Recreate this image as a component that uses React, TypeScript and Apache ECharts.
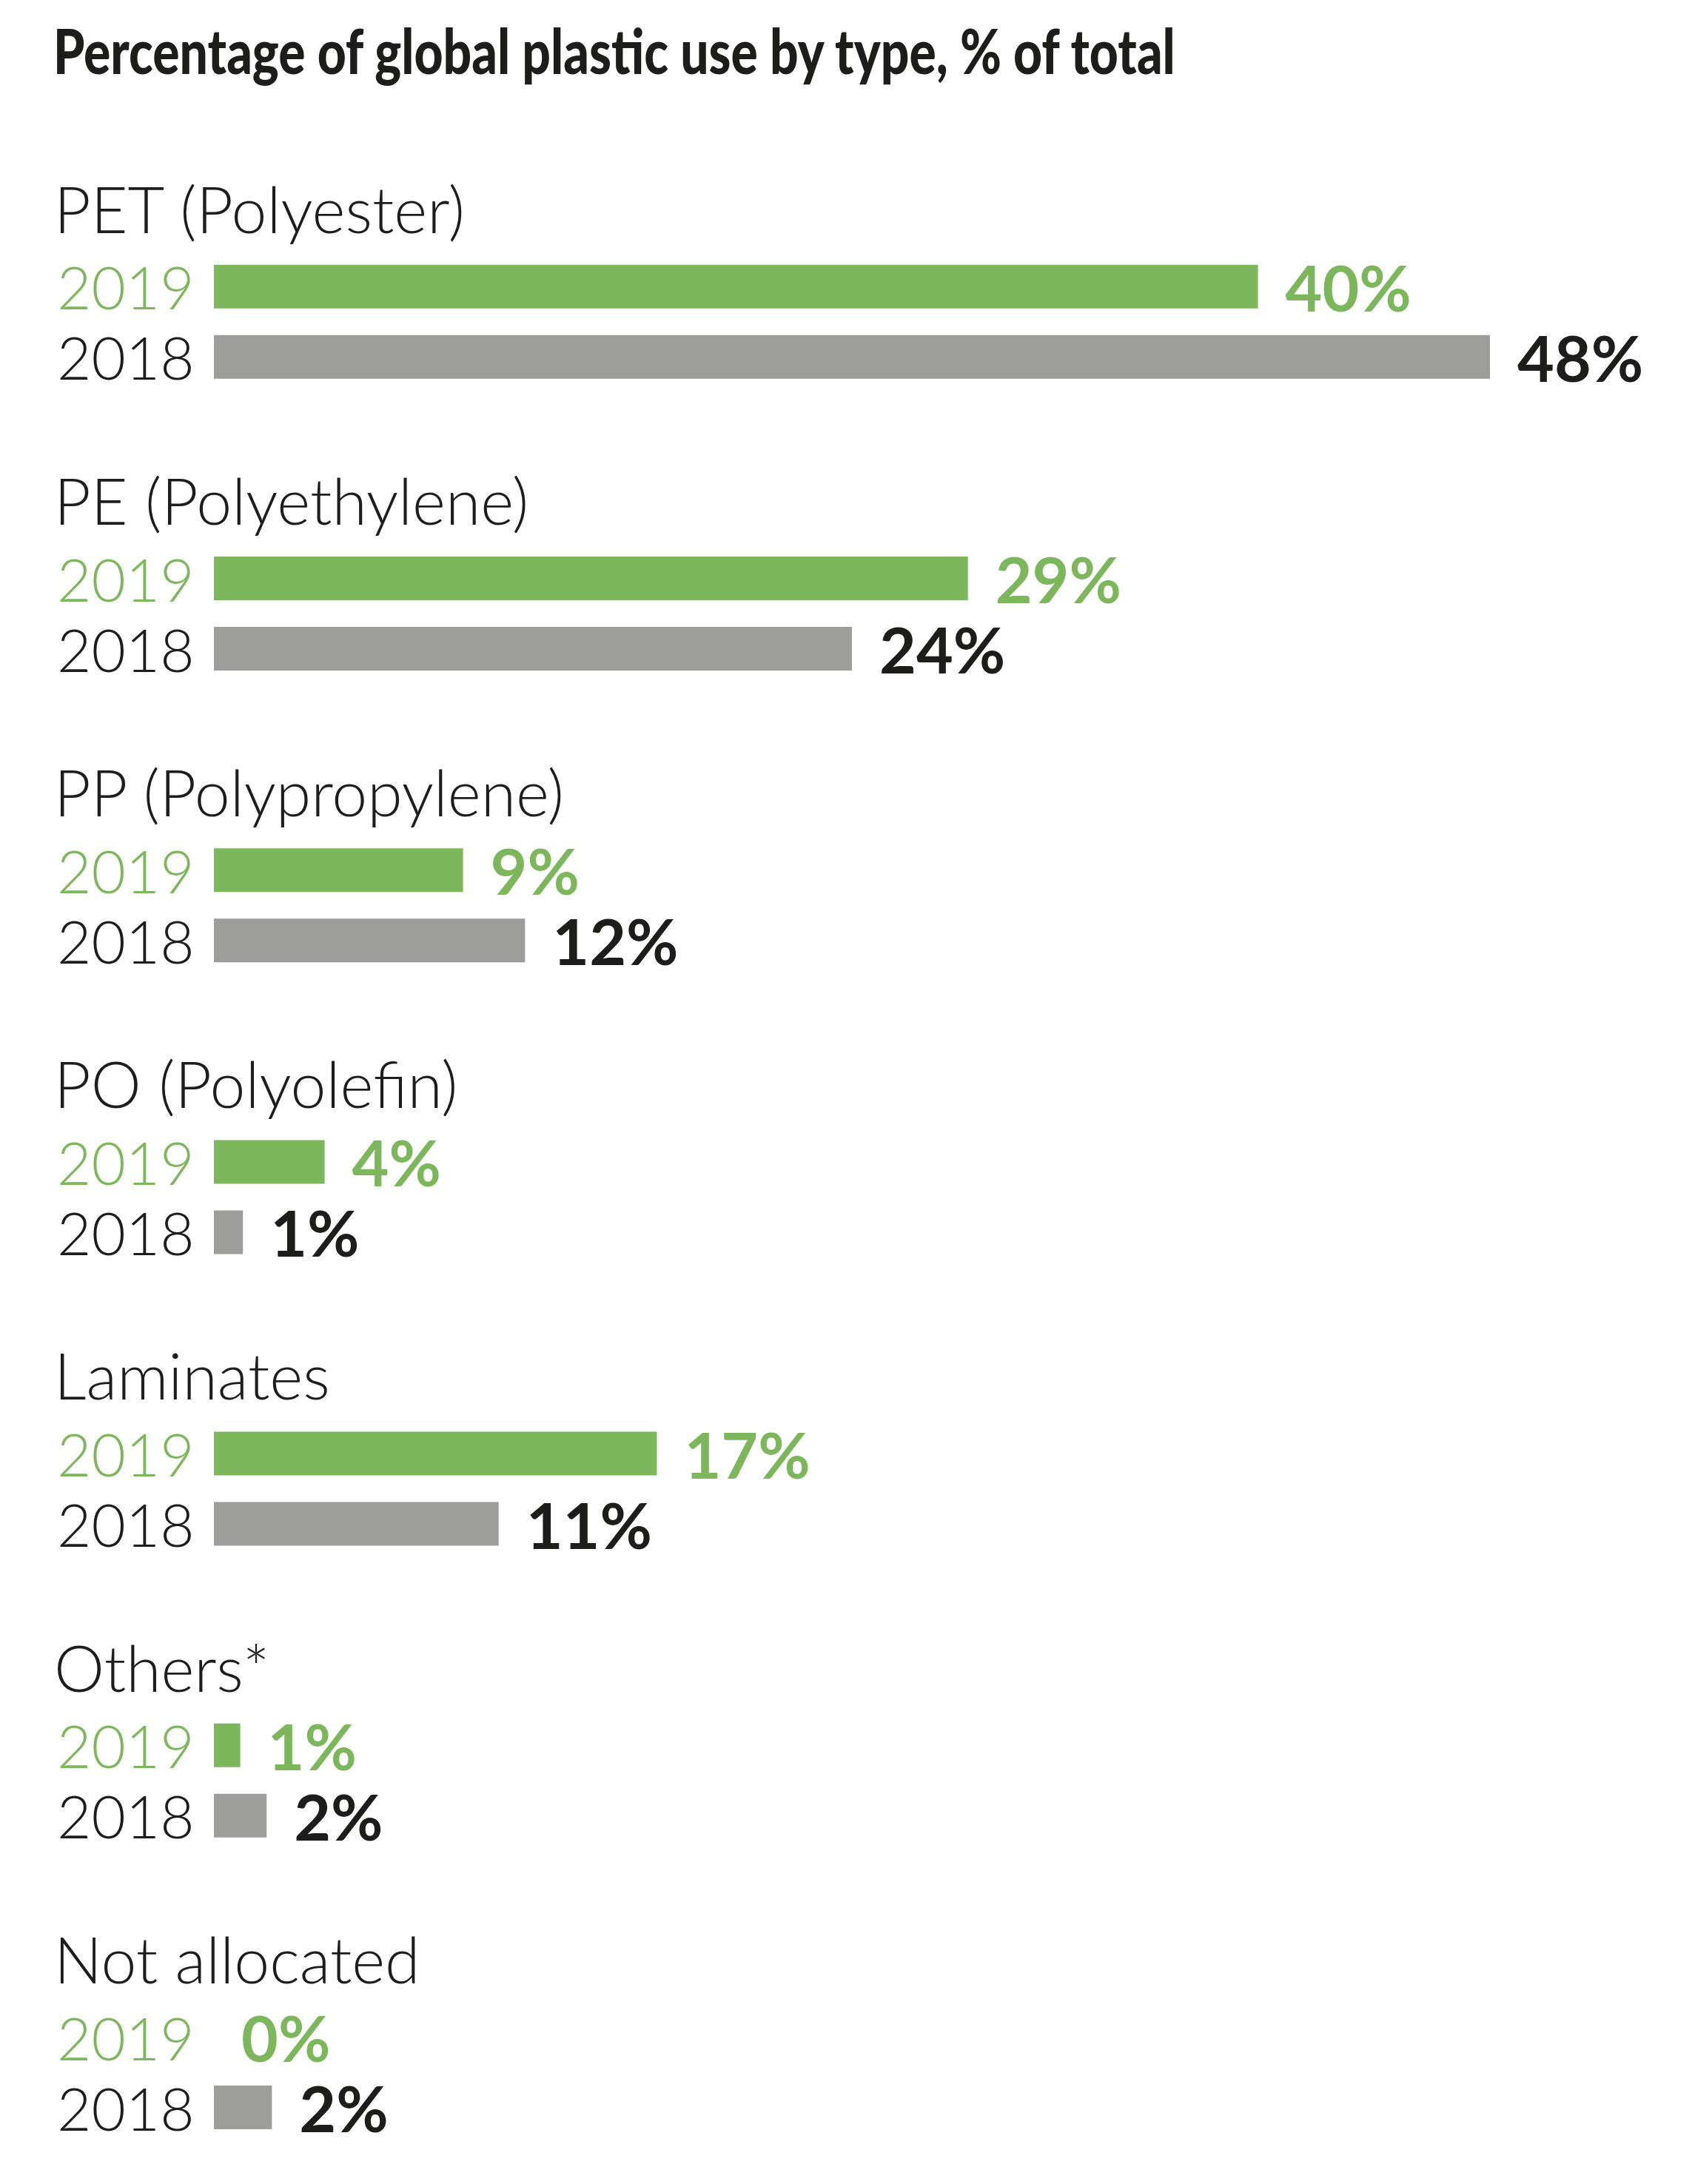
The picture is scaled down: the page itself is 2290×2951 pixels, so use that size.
import React, { useEffect, useRef } from "react";
import * as echarts from "echarts";

const TITLE = "Percentage of global plastic use by type, % of total";
const CATEGORIES = [
  "PET (Polyester)",
  "PE (Polyethylene)",
  "PP (Polypropylene)",
  "PO (Polyolefin)",
  "Laminates",
  "Others*",
  "Not allocated",
];
const YEARS = ["2019", "2018"];
const VALUES_2019 = [39.6, 28.6, 9.45, 4.2, 16.8, 1.0, 0];
const VALUES_2018 = [48.4, 24.2, 11.8, 1.1, 10.8, 2.0, 2.2];

const W = 2290;
const H = 2951;
const GREEN = "#7db75b";
const GREY = "#9d9d9c";
const DARK = "#1d1d1b";
const FONT = "Lato, 'Open Sans', 'DejaVu Sans', sans-serif";

const BAR_LEFT = 289;
const PX_PER_PCT = 35.62;
const X_MAX = 50;
const GROUP_PITCH = 394.2;
const GRID_TOP0 = 339.8;
const GRID_H = 190;

function measure(text: string, font: string): number {
  try {
    const c = document.createElement("canvas");
    const ctx = c.getContext("2d");
    if (!ctx) return 0;
    ctx.font = font;
    return ctx.measureText(text).width;
  } catch (e) {
    return 0;
  }
}

export default function App() {
  const ref = useRef<HTMLDivElement>(null);

  useEffect(() => {
    if (!ref.current) return;
    const chart = echarts.init(ref.current, undefined, { renderer: "svg" });

    const titleSize = 84;
    const titleTarget = 1520;
    const measured = measure(TITLE, `900 ${titleSize}px Lato`);
    const titleScale = measured > 0 ? titleTarget / measured : 0.7;

    const grids: any[] = [];
    const xAxes: any[] = [];
    const yAxes: any[] = [];
    const series: any[] = [];
    const graphics: any[] = [
      {
        type: "text",
        x: 72,
        y: 68,
        scaleX: titleScale,
        scaleY: 1,
        style: {
          text: TITLE,
          fontFamily: FONT,
          fontWeight: 900,
          fontSize: titleSize,
          fill: DARK,
          align: "left",
          verticalAlign: "middle",
        },
      },
    ];

    CATEGORIES.forEach((cat, i) => {
      const top = GRID_TOP0 + i * GROUP_PITCH;
      grids.push({
        left: BAR_LEFT,
        top,
        width: X_MAX * PX_PER_PCT,
        height: GRID_H,
        containLabel: false,
      });
      xAxes.push({
        type: "value",
        gridIndex: i,
        min: 0,
        max: X_MAX,
        show: false,
      });
      yAxes.push({
        type: "category",
        gridIndex: i,
        data: YEARS,
        inverse: true,
        axisLine: { show: false },
        axisTick: { show: false },
        splitLine: { show: false },
        axisLabel: {
          show: true,
          interval: 0,
          hideOverlap: false,
          align: "left",
          margin: BAR_LEFT - 77,
          fontFamily: FONT,
          fontWeight: 300,
          fontSize: 80,
          color: (value: string) => (value === "2019" ? GREEN : DARK),
        },
      });
      series.push({
        type: "bar",
        xAxisIndex: i,
        yAxisIndex: i,
        barWidth: 59,
        silent: true,
        data: [
          {
            value: VALUES_2019[i],
            itemStyle: { color: GREEN },
            label: { color: GREEN },
          },
          {
            value: VALUES_2018[i],
            itemStyle: { color: GREY },
            label: { color: DARK },
          },
        ],
        label: {
          show: true,
          position: "right",
          distance: 37,
          fontFamily: FONT,
          fontWeight: "bold",
          fontSize: 86,
          formatter: (p: any) => `${Math.round(p.value)}%`,
        },
      });
      graphics.push({
        type: "text",
        x: 73,
        y: 281 + i * GROUP_PITCH,
        style: {
          text: cat,
          fontFamily: FONT,
          fontWeight: 300,
          fontSize: 86,
          fill: DARK,
          align: "left",
          verticalAlign: "middle",
        },
      });
    });

    chart.setOption({
      animation: false,
      backgroundColor: "#ffffff",
      grid: grids,
      xAxis: xAxes,
      yAxis: yAxes,
      series,
      graphic: graphics,
    });

    return () => {
      chart.dispose();
    };
  }, []);

  return (
    <div
      ref={ref}
      style={{ position: "absolute", left: 0, top: 0, width: W, height: H }}
    />
  );
}
